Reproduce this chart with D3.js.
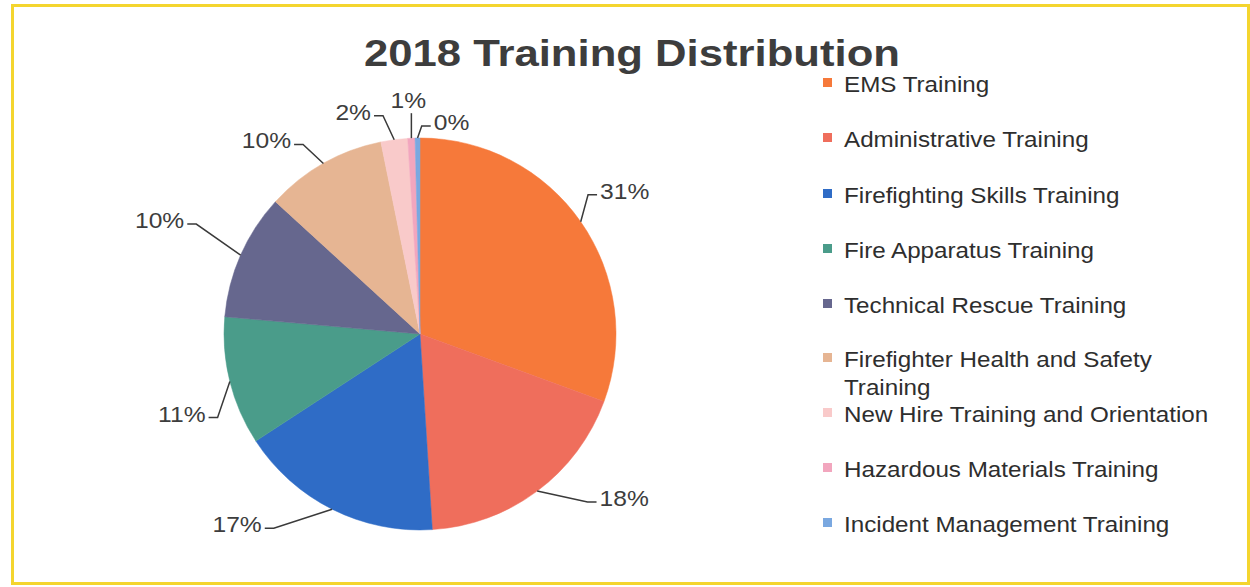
<!DOCTYPE html>
<html>
<head>
<meta charset="utf-8">
<script src="https://cdn.jsdelivr.net/npm/d3@7"></script>
<style>
  html, body { margin: 0; padding: 0; background: #ffffff; }
  svg { display: block; }
  text { font-family: "Liberation Sans", Arial, sans-serif; }
</style>
</head>
<body>
<svg id="chart" width="1250" height="587"></svg>
<script>
// ---- data ----
const title = "2018 Training Distribution";
const categories = [
  "EMS Training",
  "Administrative Training",
  "Firefighting Skills Training",
  "Fire Apparatus Training",
  "Technical Rescue Training",
  "Firefighter Health and Safety Training",
  "New Hire Training and Orientation",
  "Hazardous Materials Training",
  "Incident Management Training"
];
const shares = [30.6, 18.4, 16.8, 10.6, 10.4, 10.0, 2.2, 0.6, 0.4];
const colors = ["#F6793A", "#EF6E5C", "#2F6CC6", "#4A9C8A", "#66678E", "#E6B593", "#F9CACA", "#F2A6BE", "#7AA8E0"];

// label placement nudges relative to slice edge midpoint (layout only)
const labelNudge = [[44,-31],[87,7],[-95,15],[-48,32],[-81,-35],[-57,-23],[-41,-28],[-3,-38],[34,-16]];

const svg = d3.select("#chart");
const W = 1250, H = 587;

// horizontally widened text (the reference font renders wider than Liberation Sans)
function wideText(parent, x, y, sx, str) {
  return parent.append("text")
    .attr("x", x / sx).attr("y", y)
    .attr("transform", `scale(${sx},1)`)
    .text(str);
}

// frame
svg.append("rect").attr("width", W).attr("height", H).attr("fill", "#fff");
svg.append("rect")
  .attr("x", 12.5).attr("y", 5.5).attr("width", 1236).attr("height", 578)
  .attr("fill", "none").attr("stroke", "#F4D52E").attr("stroke-width", 3);

// title
wideText(svg, 632, 66, 1.18, title)
  .attr("text-anchor", "middle")
  .attr("font-size", 37).attr("font-weight", "bold")
  .attr("fill", "#3d3d3d");

// pie
const cx = 420, cy = 334, R = 196;
const data = categories.map((c, i) => ({ name: c, value: shares[i], color: colors[i], i }));
const total = d3.sum(shares);
const pie = d3.pie().value(d => d.value).sort(null);
const arc = d3.arc().innerRadius(0).outerRadius(R);
const arcs = pie(data);

const g = svg.append("g").attr("transform", `translate(${cx},${cy})`);
g.selectAll("path.slice").data(arcs).join("path")
  .attr("class", "slice")
  .attr("d", arc)
  .attr("fill", d => d.data.color)
  .attr("stroke", d => d.data.color)
  .attr("stroke-width", 0.5);

// labels with leader lines
const lsx = 1.12;
const fmt = v => Math.round(v / total * 100) + "%";
const labelG = svg.append("g");
arcs.forEach((a, i) => {
  const mid = (a.startAngle + a.endAngle) / 2;
  const ax = cx + R * Math.sin(mid), ay = cy - R * Math.cos(mid);
  const lx = ax + labelNudge[i][0], ly = ay + labelNudge[i][1];
  const txt = wideText(labelG, lx, ly + 8, lsx, fmt(a.data.value))
    .attr("text-anchor", "middle")
    .attr("font-size", 22)
    .attr("fill", "#3d3d3d");
  const w = txt.node().getComputedTextLength() * lsx;
  let pts;
  if (Math.abs(lx - ax) < 10) {
    pts = [[ax, ly + 13], [ax, ay]];
  } else if (lx > ax) {
    const ex = lx - w / 2 - 3, ey = ly + 4;
    pts = [[ex, ey], [ex - 9, ey], [ax, ay]];
  } else {
    const ex = lx + w / 2 + 3, ey = ly + 4;
    pts = [[ex, ey], [ex + 9, ey], [ax, ay]];
  }
  labelG.append("path")
    .attr("d", d3.line()(pts))
    .attr("fill", "none")
    .attr("stroke", "#3a3a3a")
    .attr("stroke-width", 1.5);
});

// legend
const legendBaselines = [92, 147, 203, 258, 313, 367, 422, 477, 532];
const lg = svg.append("g");
data.forEach((d, i) => {
  const by = legendBaselines[i];
  lg.append("rect")
    .attr("x", 823).attr("y", by - 14).attr("width", 9).attr("height", 9)
    .attr("fill", d.color);
  const lines = d.name === "Firefighter Health and Safety Training"
    ? ["Firefighter Health and Safety", "Training"] : [d.name];
  lines.forEach((line, k) => {
    wideText(lg, 844, by + k * 28, 1.1, line)
      .attr("font-size", 22)
      .attr("fill", "#2e2e2e");
  });
});
</script>
</body>
</html>
